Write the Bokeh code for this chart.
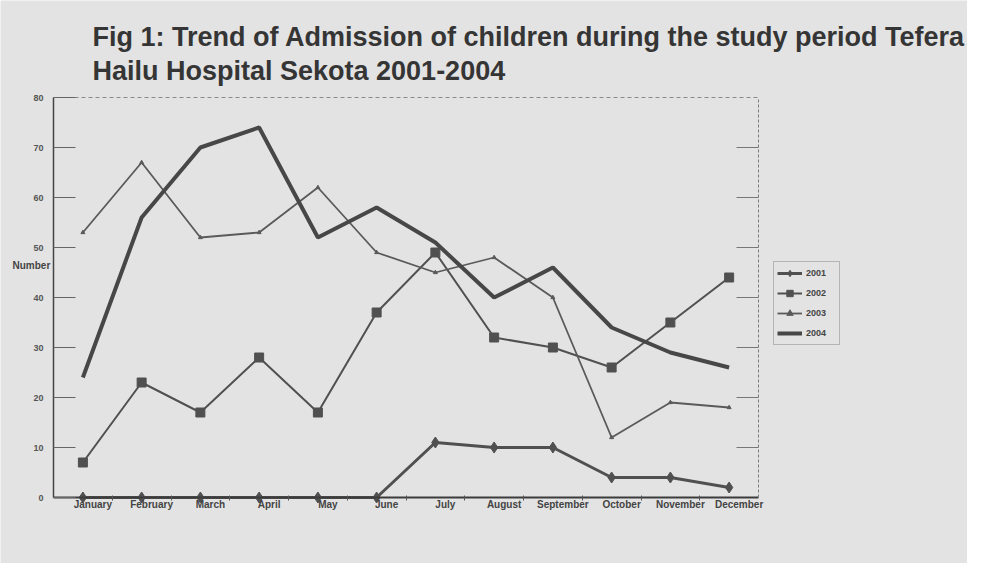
from bokeh.plotting import figure
from bokeh.models import (Range1d, LinearAxis, FixedTicker, Label,
                          Legend, LegendItem)
from bokeh.embed import file_html
from bokeh.resources import INLINE

months = ["January", "February", "March", "April", "May", "June", "July",
          "August", "September", "October", "November", "December"]
y2001 = [0, 0, 0, 0, 0, 0, 11, 10, 10, 4, 4, 2]
y2002 = [7, 23, 17, 28, 17, 37, 49, 32, 30, 26, 35, 44]
y2003 = [53, 67, 52, 53, 62, 49, 45, 48, 40, 12, 19, 18]
y2004 = [24, 56, 70, 74, 52, 58, 51, 40, 46, 34, 29, 26]
y_ticks = [0, 10, 20, 30, 40, 50, 60, 70, 80]
title1 = "Fig 1: Trend of Admission of children during the study period Tefera"
title2 = "Hailu Hospital Sekota 2001-2004"

idx = list(range(len(months)))
n = len(months)
paper = "#e3e3e3"
ink = "#505050"
FONT = "Liberation Sans"

W, H = 967, 563
# plot area (in canvas pixels): left, right, top, bottom
PL, PR, PT, PB = 53, 758, 97, 497
ymax = y_ticks[-1]
xs = (PR - PL) / n            # px per category
ys = (PB - PT) / ymax         # px per unit
x_lo, x_hi = -0.5, n - 0.5
x_range = Range1d(x_lo - PL / xs, x_hi + (W - PR) / xs)
y_range = Range1d(0 - (H - PB) / ys, ymax + PT / ys)

p = figure(width=W, height=H, output_backend="svg", toolbar_location=None,
           x_range=x_range, y_range=y_range,
           x_axis_location=None, y_axis_location=None,
           min_border=0, min_border_left=0, min_border_right=0,
           min_border_top=0, min_border_bottom=0,
           background_fill_color=paper, border_fill_color=paper)
p.grid.visible = False
p.outline_line_color = None

# left axis
ya = LinearAxis(fixed_location=x_lo, bounds=(0, ymax),
                ticker=FixedTicker(ticks=y_ticks),
                major_tick_in=22, major_tick_out=0,
                minor_tick_line_color=None, major_tick_line_color="#666",
                axis_line_color="#444", axis_line_width=1.5,
                major_label_standoff=10, major_label_text_font=FONT,
                major_label_text_font_style="bold",
                major_label_text_font_size="9px",
                major_label_text_color="#555")
p.add_layout(ya, "left")

# bottom axis: labels near the category, small ticks at category boundaries
xa = LinearAxis(fixed_location=0, bounds=(x_lo, x_hi),
                ticker=FixedTicker(ticks=[i + 0.17 for i in idx],
                                   minor_ticks=[i + 0.5 for i in range(n - 1)]),
                major_label_overrides={i + 0.17: m for i, m in zip(idx, months)},
                major_tick_line_color=None, major_tick_in=0, major_tick_out=0,
                minor_tick_in=2, minor_tick_out=3, minor_tick_line_color="#555",
                axis_line_color="#3c3c3c", axis_line_width=2,
                major_label_standoff=-2, major_label_text_font=FONT,
                major_label_text_font_style="bold",
                major_label_text_font_size="10px",
                major_label_text_color="#444")
p.add_layout(xa, "below")

# right border with inward ticks
ra = LinearAxis(fixed_location=x_hi, bounds=(0, ymax),
                ticker=FixedTicker(ticks=y_ticks[1:-1]),
                major_tick_in=22, major_tick_out=0,
                minor_tick_line_color=None, major_label_text_color=None,
                axis_line_color="#7a7a7a", axis_line_dash="3 2",
                major_tick_line_color="#777")
p.add_layout(ra, "right")

# top border
ta = LinearAxis(fixed_location=ymax, bounds=(x_lo, x_hi),
                ticker=FixedTicker(ticks=[]), major_label_text_color=None,
                major_tick_line_color=None, minor_tick_line_color=None,
                axis_line_color="#8a8a8a", axis_line_dash="4 3")
p.add_layout(ta, "above")

l1 = p.line(idx, y2001, line_color=ink, line_width=3)
m1 = p.scatter(idx, y2001, marker="diamond", size=11, color=ink)
l2 = p.line(idx, y2002, line_color=ink, line_width=2)
m2 = p.scatter(idx, y2002, marker="square", size=9, color=ink)
l3 = p.line(idx, y2003, line_color="#5a5a5a", line_width=1.8)
m3 = p.scatter(idx, y2003, marker="triangle", size=4, color="#5a5a5a")
l4 = p.line(idx, y2004, line_color="#474747", line_width=4)

legend = Legend(items=[LegendItem(label="2001", renderers=[l1, m1]),
                       LegendItem(label="2002", renderers=[l2, m2]),
                       LegendItem(label="2003", renderers=[l3, m3]),
                       LegendItem(label="2004", renderers=[l4])],
                location=(773, 218), orientation="vertical",
                label_text_font=FONT, label_text_font_style="bold",
                label_text_font_size="9px", label_text_color="#444",
                glyph_width=25, glyph_height=16, label_height=16,
                label_width=30, spacing=4, padding=3, margin=0,
                label_standoff=4, border_line_color="#888",
                background_fill_color=paper, background_fill_alpha=1)
p.add_layout(legend, "center")

p.add_layout(Label(x=12, y=298, x_units="screen", y_units="screen",
                   text="Number", text_font=FONT, text_font_style="bold",
                   text_font_size="10px", text_color="#444",
                   text_baseline="middle", text_align="left"))

p.add_layout(Label(x=92, y=527, x_units="screen", y_units="screen",
                   text=title1, text_font=FONT, text_font_style="bold",
                   text_font_size="27px", text_color="#353535",
                   text_baseline="alphabetic", text_align="left"))
p.add_layout(Label(x=92, y=493, x_units="screen", y_units="screen",
                   text=title2, text_font=FONT, text_font_style="bold",
                   text_font_size="27px", text_color="#353535",
                   text_baseline="alphabetic", text_align="left"))

open("out.html", "w").write(file_html(p, INLINE))
